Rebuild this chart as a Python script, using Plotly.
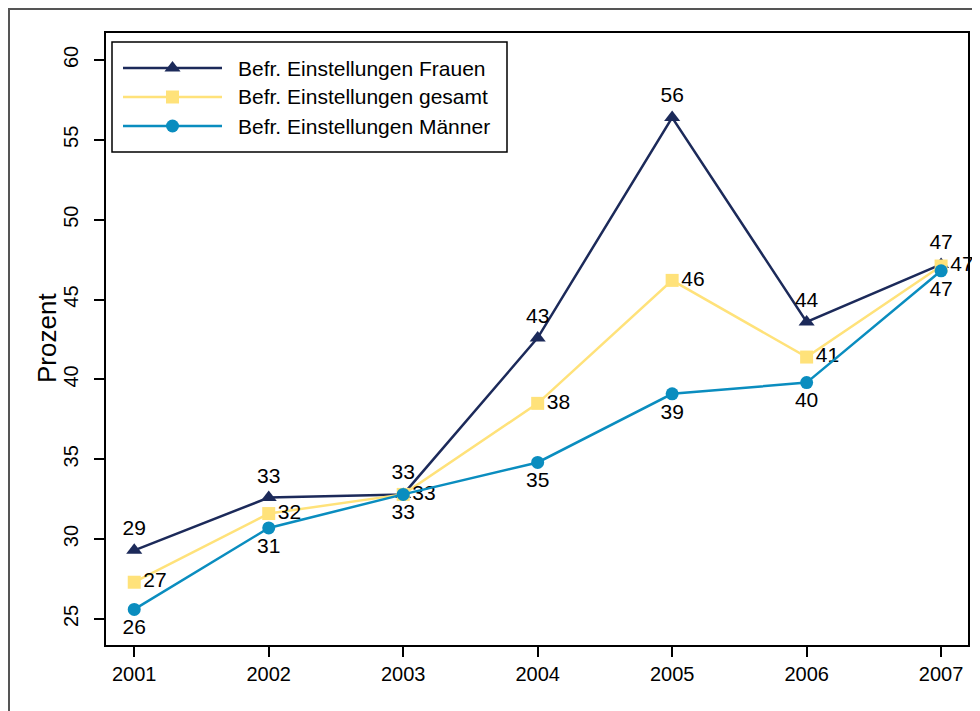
import plotly.graph_objects as go

years = [2001, 2002, 2003, 2004, 2005, 2006, 2007]
frauen = [29.3, 32.6, 32.8, 42.6, 56.4, 43.6, 47.2]
gesamt = [27.3, 31.6, 32.8, 38.5, 46.2, 41.4, 47.1]
maenner = [25.6, 30.7, 32.8, 34.8, 39.1, 39.8, 46.8]
frauen_labels = ["29", "33", "33", "43", "56", "44", "47"]
gesamt_labels = ["27", "32", "33", "38", "46", "41", "47"]
maenner_labels = ["26", "31", "33", "35", "39", "40", "47"]
series_names = ["Befr. Einstellungen Frauen", "Befr. Einstellungen gesamt",
                "Befr. Einstellungen Männer"]
y_ticks = [25, 30, 35, 40, 45, 50, 55, 60]

FONT = "Liberation Sans, Arial, sans-serif"
c_frauen = "#1c2a5a"
c_gesamt = "#ffe27a"
c_maenner = "#0a8dbf"
colors = [c_frauen, c_gesamt, c_maenner]
symbols = ["triangle-up", "square", "circle"]
msizes = [14, 13, 13]

# figure geometry (page shows figure offset by 8px body margin)
W, H = 980, 711
ml, mr, mt, mb = 98, 20, 25, 74
pw = W - ml - mr
ph = H - mt - mb


def px(xf):
    return (xf - ml) / pw


def py(yf):
    return 1 - (yf - mt) / ph


fig = go.Figure()
data = [(frauen, frauen_labels, "top center"),
        (gesamt, gesamt_labels, "middle right"),
        (maenner, maenner_labels, "bottom center")]
for i, (vals, labs, pos) in enumerate(data):
    fig.add_trace(go.Scatter(
        x=years, y=vals, mode="lines+markers+text", name=series_names[i],
        line=dict(color=colors[i], width=2.5),
        marker=dict(symbol=symbols[i], size=msizes[i], color=colors[i]),
        text=labs, textposition=pos,
        textfont=dict(family=FONT, size=21, color="black"),
        cliponaxis=False, showlegend=False))

# custom legend (long line samples like the original)
shapes = [
    dict(type="rect", xref="paper", yref="paper",
         x0=px(1), x1=px(1000), y0=py(730), y1=py(1),
         line=dict(color="#555555", width=2), layer="below"),
    dict(type="rect", xref="paper", yref="paper",
         x0=px(104), x1=px(499), y0=py(144), y1=py(34),
         line=dict(color="black", width=1.5), fillcolor="white",
         layer="below"),
]
leg_x0, leg_x1 = px(115), px(214)
leg_rows = [py(60), py(89), py(118)]
annotations = []
for i in range(3):
    shapes.append(dict(
        type="line", xref="paper", yref="paper",
        x0=leg_x0, x1=leg_x1, y0=leg_rows[i], y1=leg_rows[i],
        line=dict(color=colors[i], width=2.5), layer="below"))
    fig.add_trace(go.Scatter(
        x=[(leg_x0 + leg_x1) / 2], y=[leg_rows[i]],
        xaxis="x2", yaxis="y2", mode="markers",
        marker=dict(symbol=symbols[i], size=msizes[i], color=colors[i]),
        hoverinfo="skip", showlegend=False, cliponaxis=False))
    annotations.append(dict(
        xref="paper", yref="paper", x=px(228), y=leg_rows[i],
        xanchor="left", yanchor="middle", showarrow=False,
        text=series_names[i], font=dict(family=FONT, size=21, color="black")))

# y-axis title
annotations.append(dict(
    xref="paper", yref="paper", x=px(39), y=py(330),
    xanchor="center", yanchor="middle", showarrow=False, textangle=-90,
    text="Prozent", font=dict(family=FONT, size=26, color="black")))

fig.update_layout(
    width=W, height=H,
    margin=dict(l=ml, r=mr, t=mt, b=mb),
    paper_bgcolor="white", plot_bgcolor="white",
    font=dict(family=FONT, size=20, color="black"),
    showlegend=False,
    xaxis=dict(
        range=[2000.79, 2007.2], tickmode="array", tickvals=years,
        ticktext=[str(y) for y in years],
        ticks="outside", ticklen=10, tickwidth=1.5, tickcolor="black",
        showgrid=False, zeroline=False,
        showline=True, linecolor="black", linewidth=2, mirror=True,
        tickfont=dict(family=FONT, size=20),
    ),
    yaxis=dict(
        range=[23.37, 61.69], tickmode="array", tickvals=y_ticks,
        ticks="outside", ticklen=10, tickwidth=1.5, tickcolor="black",
        tickangle=-90, ticklabelstandoff=8,
        showgrid=False, zeroline=False,
        showline=True, linecolor="black", linewidth=2, mirror=True,
        tickfont=dict(family=FONT, size=20),
    ),
    xaxis2=dict(overlaying="x", range=[0, 1], visible=False),
    yaxis2=dict(overlaying="y", range=[0, 1], visible=False),
    annotations=annotations,
    shapes=shapes,
)

fig.write_html("out.html")
